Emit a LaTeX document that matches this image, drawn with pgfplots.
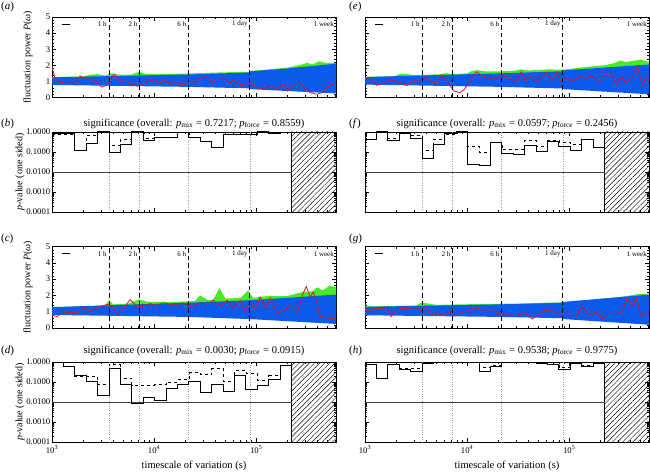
\documentclass[border=0pt]{standalone}
\usepackage{fontspec}
\setmainfont{Liberation Serif}
\usepackage{pgfplots}
\pgfplotsset{compat=1.18}
\usetikzlibrary{patterns.meta}
\definecolor{cblue}{RGB}{10,90,235}
\definecolor{cgreen}{RGB}{70,235,35}
\definecolor{cred}{RGB}{210,25,50}
\newcommand\fs{\fontsize{8.7}{10}\selectfont}
\newcommand\flab{\fontsize{10.5}{12}\selectfont}
\newcommand\fyl{\fontsize{10}{12}\selectfont}
\newcommand\fsm{\fontsize{7}{8}\selectfont}
\newcommand\fl{\fontsize{11}{12}\selectfont}
\newcommand\sig[2]{significance (overall: \textit{p}\textsubscript{mix}\;=\;#1; \textit{p}\textsubscript{force}\;=\;#2)}
\tikzset{tl/.style={anchor=east, font=\fsm, inner sep=1pt, xshift=-1pt}}
\pgfplotsset{
 mybase/.style={scale only axis, width=284pt, xmin=3, xmax=5.7816, no markers,
  xtick={3,4,5},
  minor xtick={3.30103,3.47712,3.60206,3.69897,3.77815,3.84510,3.90309,3.95424,
   4.30103,4.47712,4.60206,4.69897,4.77815,4.84510,4.90309,4.95424,
   5.30103,5.47712,5.60206,5.69897,5.77815},
  tick align=inside, major tick length=4pt, minor tick length=2pt,
  tick style={black, line width=0.4pt}, axis line style={line width=0.5pt},
  tick label style={font=\fs}, label style={font=\flab}, anchor=south west,
  yticklabel style={inner sep=1.5pt}},
 mytop/.style={mybase, height=80.5pt, ymin=0, ymax=5, ytick={0,1,2,3,4,5}, minor y tick num=4,
  xticklabels={}, yticklabels={0,1,2,3,4,5},
  ylabel style={font=\fyl, at={(axis description cs:-0.0845,0.5)}, anchor=center}},
 mypv/.style={mybase, height=80pt, ymin=1e-4, ymax=1, ytick={1e-4,1e-3,1e-2,1e-1,1},
  yticklabels={0.0001,0.0010,0.0100,0.1000,1.0000},
  ylabel style={font=\fyl, at={(axis description cs:-0.1125,0.5)}, anchor=center}},
}
\newcommand\toplines{%
 \addplot[black, dash pattern=on 4.5pt off 3pt, line width=0.5pt] coordinates {(3.5563,0)(3.5563,5)};
 \addplot[black, dash pattern=on 4.5pt off 3pt, line width=0.5pt] coordinates {(3.8573,0)(3.8573,5)};
 \addplot[black, dash pattern=on 4.5pt off 3pt, line width=0.5pt] coordinates {(4.3345,0)(4.3345,5)};
 \addplot[black, dash pattern=on 4.5pt off 3pt, line width=0.5pt] coordinates {(4.9365,0)(4.9365,5)};
 \addplot[black, line width=1pt] coordinates {(3.095,4.55)(3.176,4.55)};
 \node[tl] at (axis cs:3.5563,4.55) {1 h};
 \node[tl] at (axis cs:3.8573,4.55) {2 h};
 \node[tl] at (axis cs:4.3345,4.55) {6 h};
 \node[tl] at (axis cs:4.9365,4.55) {1 day};
 \node[tl] at (axis cs:5.7816,4.55) {1 week};
}
\newcommand\plines{%
 \addplot[draw=black, line width=0.5pt, pattern={Lines[angle=45,distance=3.6pt,line width=0.45pt]}] coordinates {(5.3470,1e-4)(5.3470,1)(5.7816,1)(5.7816,1e-4)};
 \addplot[gray!80, dotted, line width=0.4pt] coordinates {(3.5563,1e-4)(3.5563,1)};
 \addplot[gray!80, dotted, line width=0.4pt] coordinates {(3.8573,1e-4)(3.8573,1)};
 \addplot[gray!80, dotted, line width=0.4pt] coordinates {(4.3345,1e-4)(4.3345,1)};
 \addplot[gray!80, dotted, line width=0.4pt] coordinates {(4.9365,1e-4)(4.9365,1)};
 \addplot[black!75, line width=0.6pt] coordinates {(3,0.01)(5.3470,0.01)};
}
\begin{document}
\begin{tikzpicture}
\path[use as bounding box] (0,0) rectangle (650pt,474pt);
% ---------------- (a)
\begin{axis}[mytop, at={(52pt,376.5pt)}, ylabel={fluctuation power \textit{P}(\textit{ω})}]
\addplot[draw=none, fill=cgreen] coordinates {(3,1.28)(3.3,1.3)(3.38,1.42)(3.45,1.45)(3.52,1.36)(3.58,1.5)(3.65,1.42)(3.78,1.42)(3.85,1.6)(3.92,1.45)(4.3,1.48)(4.6,1.55)(4.93,1.6)(4.94,1.65)(5.3,1.85)(5.45,2.05)(5.5,2.15)(5.55,2.05)(5.62,2.25)(5.68,2.15)(5.7816,2.15)(5.7816,1)(3,1)};
\addplot[draw=none, fill=cblue] coordinates {(3,1.25)(3.5,1.32)(4.33,1.43)(4.93,1.55)(4.94,1.62)(5.3,1.8)(5.7816,2.1)(5.7816,0.25)(4.94,0.52)(4.93,0.57)(4.33,0.66)(3,0.78)};
\addplot[cred, line width=0.8pt] coordinates {(3.000,1.9)(3.029,1.2)(3.078,0.95)(3.147,0.88)(3.225,0.92)(3.275,1.34)(3.324,1.15)(3.373,1.15)(3.422,1.0)(3.487,0.65)(3.536,0.75)(3.569,1.15)(3.608,1.45)(3.667,1.05)(3.732,1.0)(3.781,0.85)(3.830,0.7)(3.895,0.85)(3.961,1.05)(4.010,1.1)(4.059,0.9)(4.108,1.1)(4.157,0.85)(4.223,1.0)(4.272,0.75)(4.321,0.85)(4.382,0.9)(4.451,1.2)(4.517,1.3)(4.566,0.9)(4.615,1.25)(4.679,1.2)(4.745,0.9)(4.777,1.1)(4.843,0.8)(4.909,0.85)(4.941,0.95)(5.007,0.6)(5.072,0.55)(5.137,0.75)(5.203,0.5)(5.268,0.85)(5.307,0.4)(5.366,0.8)(5.431,0.9)(5.480,0.55)(5.529,0.3)(5.595,0.2)(5.644,0.3)(5.693,0.6)(5.735,0.8)(5.7816,0.9)};
\toplines
\end{axis}
% ---------------- (e)
\begin{axis}[mytop, at={(365pt,376.5pt)}, yticklabels={}]
\addplot[draw=none, fill=cgreen] coordinates {(3,1.28)(3.3,1.33)(3.33,1.45)(3.42,1.45)(3.48,1.38)(3.75,1.45)(3.8,1.52)(3.85,1.45)(4.0,1.5)(4.05,1.65)(4.1,1.7)(4.18,1.62)(4.3,1.62)(4.45,1.65)(4.53,1.75)(4.6,1.68)(4.8,1.75)(4.93,1.72)(5.1,1.85)(5.25,1.95)(5.35,2.0)(5.45,2.15)(5.5,2.3)(5.55,2.2)(5.65,2.3)(5.7,2.35)(5.7816,2.2)(5.7816,1)(3,1)};
\addplot[draw=none, fill=cblue] coordinates {(3,1.27)(4.33,1.5)(4.93,1.63)(4.94,1.68)(5.7816,2.05)(5.7816,0.2)(4.94,0.52)(4.93,0.56)(4.33,0.66)(3,0.8)};
\addplot[cred, line width=0.8pt] coordinates {(3.0,1.25)(3.059,1.1)(3.118,0.75)(3.206,1.0)(3.265,1.1)(3.333,0.95)(3.412,0.75)(3.480,1.05)(3.549,1.0)(3.598,1.25)(3.647,1.0)(3.696,0.9)(3.755,1.4)(3.824,0.8)(3.873,0.4)(3.931,0.3)(3.971,0.5)(4.020,0.9)(4.088,1.6)(4.147,1.35)(4.216,1.2)(4.284,1.2)(4.343,1.4)(4.412,1.2)(4.480,1.0)(4.529,1.6)(4.578,1.0)(4.627,1.3)(4.686,1.0)(4.775,1.55)(4.824,1.0)(4.873,1.55)(4.922,1.0)(4.971,1.2)(5.029,1.0)(5.098,1.3)(5.167,1.2)(5.225,1.35)(5.294,1.0)(5.343,1.4)(5.412,1.5)(5.461,0.8)(5.510,1.3)(5.559,0.9)(5.608,1.2)(5.667,1.95)(5.716,0.8)(5.755,1.2)(5.7816,1.0)};
\toplines
\end{axis}
% ---------------- (b)
\begin{axis}[mypv, ymode=log, at={(52pt,262pt)}, xticklabels={}, ylabel={\textit{p}-value (one sided)}]
\plines
\addplot[black, dashed, const plot, line width=0.8pt] coordinates {(3.0,0.8)(3.1118,0.8)(3.2235,0.12)(3.3353,0.65)(3.4470,1.0)(3.5588,0.21)(3.6706,0.41)(3.7823,1.0)(3.8941,0.5)(4.0058,0.54)(4.1176,0.54)(4.2294,0.93)(4.3411,0.54)(4.4529,0.35)(4.5646,0.17)(4.6764,0.74)(4.7882,0.74)(4.8999,0.74)(5.0117,1.0)(5.1234,0.89)(5.2352,0.96)(5.3470,0.96)};
\addplot[black, const plot, line width=1pt] coordinates {(3.0,0.8)(3.1118,0.8)(3.2235,0.12)(3.3353,0.28)(3.4470,1.0)(3.5588,0.093)(3.6706,0.24)(3.7823,1.0)(3.8941,0.37)(4.0058,0.54)(4.1176,0.54)(4.2294,0.93)(4.3411,0.54)(4.4529,0.32)(4.5646,0.17)(4.6764,0.74)(4.7882,0.74)(4.8999,0.74)(5.0117,1.0)(5.1234,0.89)(5.2352,0.96)(5.3470,0.96)};
\end{axis}
% ---------------- (f)
\begin{axis}[mypv, ymode=log, at={(365pt,262pt)}, xticklabels={}, yticklabels={}]
\plines
\addplot[black, dashed, const plot, line width=0.8pt] coordinates {(3.0,0.41)(3.1118,1.0)(3.2235,0.5)(3.3353,0.83)(3.4470,0.65)(3.5588,0.12)(3.6706,0.45)(3.7823,0.8)(3.8941,1.0)(4.0058,0.2)(4.1176,0.1)(4.2294,0.3)(4.3411,0.13)(4.4529,0.13)(4.5646,0.4)(4.6764,0.2)(4.7882,0.4)(4.8999,0.3)(5.0117,0.24)(5.1234,0.45)(5.2352,0.17)(5.3470,0.17)};
\addplot[black, const plot, line width=1pt] coordinates {(3.0,0.41)(3.1118,1.0)(3.2235,0.37)(3.3353,0.83)(3.4470,0.45)(3.5588,0.05)(3.6706,0.23)(3.7823,0.83)(3.8941,1.0)(4.0058,0.023)(4.1176,0.021)(4.2294,0.3)(4.3411,0.08)(4.4529,0.075)(4.5646,0.21)(4.6764,0.1)(4.7882,0.32)(4.8999,0.19)(5.0117,0.12)(5.1234,0.4)(5.2352,0.17)(5.3470,0.17)};
\end{axis}
% ---------------- (c)
\begin{axis}[mytop, at={(52pt,146pt)}, height=81.5pt, ylabel={fluctuation power \textit{P}(\textit{ω})}]
\addplot[draw=none, fill=cgreen] coordinates {(3,1.28)(3.4,1.35)(3.52,1.4)(3.56,1.7)(3.6,1.45)(3.75,1.5)(3.85,1.75)(3.95,1.6)(4.2,1.6)(4.4,1.65)(4.45,2.0)(4.53,1.7)(4.58,1.75)(4.64,2.45)(4.7,1.8)(4.85,1.85)(4.92,2.3)(4.97,1.85)(5.1,1.95)(5.3,1.95)(5.45,2.2)(5.55,2.25)(5.6,2.5)(5.65,2.3)(5.72,2.6)(5.7816,2.5)(5.7816,1)(3,1)};
\addplot[draw=none, fill=cblue] coordinates {(3,1.28)(4.33,1.55)(4.93,1.7)(5.3,1.85)(5.7816,2.05)(5.7816,0.25)(4.93,0.55)(4.33,0.68)(3,0.8)};
\addplot[cred, line width=0.8pt] coordinates {(3.0,0.8)(3.049,0.7)(3.078,0.85)(3.147,0.95)(3.245,0.95)(3.304,1.25)(3.373,1.05)(3.471,1.3)(3.539,1.45)(3.598,1.3)(3.637,0.85)(3.696,1.15)(3.765,1.75)(3.833,1.3)(3.892,1.35)(3.961,1.5)(4.029,1.35)(4.088,1.55)(4.157,1.45)(4.225,1.4)(4.284,1.55)(4.353,1.3)(4.451,1.55)(4.520,1.45)(4.578,1.7)(4.647,1.35)(4.716,1.7)(4.775,1.2)(4.843,1.7)(4.892,1.0)(4.941,1.55)(4.990,1.2)(5.039,1.9)(5.088,1.2)(5.137,1.85)(5.206,0.9)(5.265,1.05)(5.333,1.4)(5.402,0.95)(5.451,2.0)(5.490,2.55)(5.529,1.9)(5.559,2.2)(5.598,1.5)(5.627,0.7)(5.706,0.6)(5.7816,0.55)};
\toplines
\end{axis}
% ---------------- (g)
\begin{axis}[mytop, at={(365pt,146pt)}, height=81.5pt, yticklabels={}]
\addplot[draw=none, fill=cgreen] coordinates {(3,1.32)(3.5,1.38)(3.55,1.55)(3.62,1.5)(3.7,1.42)(4.2,1.48)(4.5,1.5)(4.93,1.57)(5.5,1.9)(5.7,2.1)(5.7816,2.1)(5.7816,1)(3,1)};
\addplot[draw=none, fill=cblue] coordinates {(3,1.3)(4.33,1.45)(4.93,1.55)(4.94,1.6)(5.7816,2.05)(5.7816,0.2)(4.94,0.55)(4.93,0.6)(4.33,0.68)(3,0.78)};
\addplot[cred, line width=0.8pt] coordinates {(3.0,1.45)(3.020,1.0)(3.088,1.2)(3.167,1.2)(3.216,1.25)(3.255,0.7)(3.304,1.1)(3.363,1.2)(3.431,1.2)(3.5,1.25)(3.549,1.05)(3.598,1.3)(3.647,0.75)(3.696,0.95)(3.755,0.75)(3.824,0.95)(3.892,0.85)(3.951,0.95)(4.020,1.1)(4.088,1.25)(4.147,1.1)(4.216,1.1)(4.284,1.0)(4.343,0.8)(4.431,0.8)(4.480,0.75)(4.578,0.95)(4.637,0.55)(4.706,0.85)(4.775,1.1)(4.833,1.05)(4.931,0.75)(5.0,0.8)(5.069,0.75)(5.127,1.3)(5.196,0.8)(5.265,1.0)(5.324,0.55)(5.392,0.9)(5.461,0.9)(5.520,1.0)(5.569,1.85)(5.618,1.4)(5.657,1.8)(5.706,0.7)(5.755,0.9)(5.7816,1.0)};
\toplines
\end{axis}
% ---------------- (d)
\begin{axis}[mypv, ymode=log, at={(52pt,32pt)}, xticklabels={10\textsuperscript{3},10\textsuperscript{4},10\textsuperscript{5}},
 ylabel={\textit{p}-value (one sided)}, xlabel={timescale of variation (s)}, xlabel style={yshift=-1pt}]
\plines
\addplot[black, dashed, const plot, line width=0.8pt] coordinates {(3.0,0.95)(3.1118,0.6)(3.2235,0.2)(3.3353,0.2)(3.4470,0.08)(3.5588,0.72)(3.6706,0.15)(3.7823,0.07)(3.8941,0.07)(4.0058,0.075)(4.1176,0.1)(4.2294,0.13)(4.3411,0.29)(4.4529,0.23)(4.5646,0.46)(4.6764,0.11)(4.7882,0.38)(4.8999,0.28)(5.0117,0.12)(5.1234,0.21)(5.2352,0.68)(5.3470,0.68)};
\addplot[black, const plot, line width=1pt] coordinates {(3.0,0.95)(3.1118,0.6)(3.2235,0.2)(3.3353,0.11)(3.4470,0.022)(3.5588,0.46)(3.6706,0.077)(3.7823,0.0085)(3.8941,0.017)(4.0058,0.0125)(4.1176,0.048)(4.2294,0.077)(4.3411,0.11)(4.4529,0.03)(4.5646,0.077)(4.6764,0.034)(4.7882,0.2)(4.8999,0.042)(5.0117,0.07)(5.1234,0.13)(5.2352,0.66)(5.3470,0.66)};
\end{axis}
% ---------------- (h)
\begin{axis}[mypv, ymode=log, at={(365pt,32pt)}, xticklabels={10\textsuperscript{3},10\textsuperscript{4},10\textsuperscript{5}},
 yticklabels={}, xlabel={timescale of variation (s)}, xlabel style={yshift=-1pt}]
\plines
\addplot[black, dashed, const plot, line width=0.8pt] coordinates {(3.0,0.76)(3.1118,0.15)(3.2235,0.76)(3.3353,0.5)(3.4470,0.5)(3.5588,0.9)(3.6706,1.0)(3.7823,0.93)(3.8941,1.0)(4.0058,0.93)(4.1176,0.55)(4.2294,0.7)(4.3411,1.0)(4.4529,1.0)(4.5646,0.98)(4.6764,0.85)(4.7882,0.76)(4.8999,0.55)(5.0117,0.83)(5.1234,0.7)(5.2352,0.85)(5.3470,0.85)};
\addplot[black, const plot, line width=1pt] coordinates {(3.0,0.76)(3.1118,0.15)(3.2235,0.76)(3.3353,0.4)(3.4470,0.32)(3.5588,0.85)(3.6706,1.0)(3.7823,0.93)(3.8941,1.0)(4.0058,0.93)(4.1176,0.33)(4.2294,0.63)(4.3411,1.0)(4.4529,1.0)(4.5646,0.98)(4.6764,0.85)(4.7882,0.76)(4.8999,0.43)(5.0117,0.83)(5.1234,0.58)(5.2352,0.85)(5.3470,0.85)};
\end{axis}
% ---------------- titles and panel letters
\node[font=\flab] at (194pt,350.5pt) {\sig{0.7217}{0.8559}};
\node[font=\flab] at (507pt,350.5pt) {\sig{0.0597}{0.2456}};
\node[font=\flab] at (194pt,123.5pt) {\sig{0.0030}{0.0915}};
\node[font=\flab] at (507pt,123.5pt) {\sig{0.9538}{0.9775}};
\node[font=\fl, anchor=west, inner sep=0pt] at (1pt,467pt) {(\textit{a})};
\node[font=\fl, anchor=west, inner sep=0pt] at (1pt,350pt) {(\textit{b})};
\node[font=\fl, anchor=west, inner sep=0pt] at (1pt,235pt) {(\textit{c})};
\node[font=\fl, anchor=west, inner sep=0pt] at (1pt,123pt) {(\textit{d})};
\node[font=\fl, anchor=west, inner sep=0pt] at (349pt,467pt) {(\textit{e})};
\node[font=\fl, anchor=west, inner sep=0pt] at (349pt,350pt) {(\textit{f})};
\node[font=\fl, anchor=west, inner sep=0pt] at (349pt,235pt) {(\textit{g})};
\node[font=\fl, anchor=west, inner sep=0pt] at (349pt,123pt) {(\textit{h})};
\end{tikzpicture}
\end{document}
